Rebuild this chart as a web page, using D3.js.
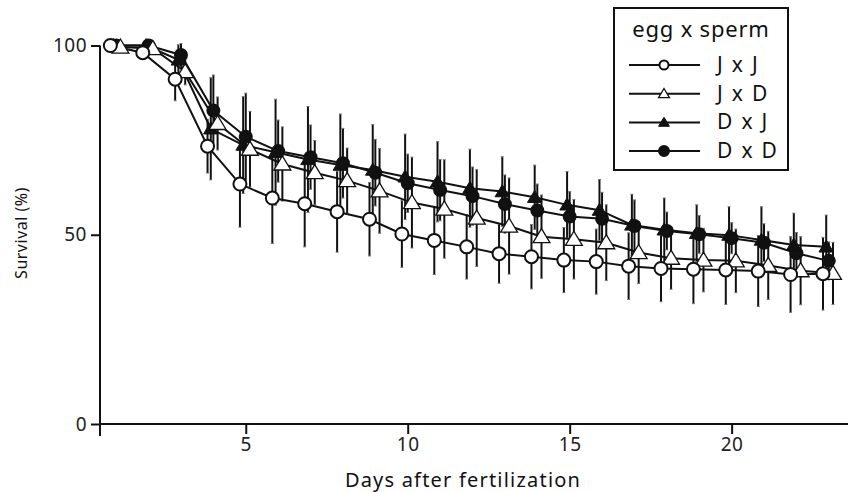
<!DOCTYPE html>
<html>
<head>
<meta charset="utf-8">
<style>
  body { margin: 0; background: #fff; }
  text { font-family: "Noto Sans", "Liberation Sans", sans-serif; fill: #111; }
</style>
</head>
<body>
<svg width="848" height="492"></svg>
<script src="https://d3js.org/d3.v7.min.js"></script>
<script>
// days after fertilization
var days = [1, 2, 3, 4, 5, 6, 7, 8, 9, 10, 11, 12, 13, 14, 15, 16, 17, 18, 19, 20, 21, 22, 23];

// survival (%) and SD per cross (egg x sperm)
var jxj   = [100, 98.1, 91.1, 73.4, 63.4, 59.7, 58.2, 56.1, 54.1, 50.2, 48.5, 46.8, 45.0, 44.2, 43.3, 42.9, 41.7, 41.1, 40.9, 40.7, 40.4, 39.5, 39.7];
var jxjSd = [0, 1.5, 5.7, 7.1, 11.4, 12, 11.4, 10.7, 9.7, 8.8, 9, 8.5, 7.8, 8.5, 8.6, 8.6, 8.8, 8.8, 9.1, 9.1, 9.4, 10, 9.6];
var jxd   = [99.6, 99.2, 93.1, 79.4, 72.6, 68.7, 66.4, 64.3, 61.6, 58.5, 56.8, 54.4, 52.3, 49.5, 48.8, 47.9, 45.3, 43.8, 43.3, 43.1, 41.9, 40.5, 39.8];
var jxdSd = [0.5, 1, 3.5, 7, 10, 9.8, 8.5, 8.6, 11.2, 12, 13, 12.8, 12.7, 11, 10.5, 10, 8.2, 8.2, 8.4, 8.4, 9, 9, 8.2];
var dxj   = [100, 100, 96.2, 78, 73.7, 71.8, 69.9, 68.4, 67.1, 65.3, 64.0, 62.3, 61.4, 59.9, 57.9, 56.5, 52.6, 51.3, 50.4, 49.9, 48.6, 47.3, 46.8];
var dxjSd = [0, 0.5, 4, 13.5, 12.8, 14, 14, 13.5, 12, 11.3, 10.6, 10.3, 9.2, 8.5, 8.8, 8.1, 8.1, 8.4, 7.5, 7.5, 8.8, 8.4, 8.4];
var dxd   = [100, 100, 97.5, 82.8, 75.9, 72.1, 70.5, 68.9, 66.4, 63.6, 61.8, 60.2, 58.1, 56.4, 54.8, 54.2, 52.3, 51.0, 50.1, 49.1, 47.9, 45.1, 43.1];
var dxdSd = [0, 0.5, 3, 9.4, 11.5, 8.2, 8.5, 9.2, 8.8, 7.7, 8.1, 7.7, 7.7, 7, 6.6, 7, 6.9, 5, 5, 4.1, 5, 5.5, 5];

var xTicks = [5, 10, 15, 20];
var yTicks = [0, 50, 100];

// drawing order: back to front
var series = [
  { name: "D x D", vals: dxd, sd: dxdSd, shape: "circle",   fill: "#111", shift: 0.0 },
  { name: "D x J", vals: dxj, sd: dxjSd, shape: "triangle", fill: "#111", shift: -0.08 },
  { name: "J x D", vals: jxd, sd: jxdSd, shape: "triangle", fill: "#fff", shift: 0.13 },
  { name: "J x J", vals: jxj, sd: jxjSd, shape: "circle",   fill: "#fff", shift: -0.18 }
];
var legendOrder = ["J x J", "J x D", "D x J", "D x D"];

var svg = d3.select("svg");
var x = d3.scaleLinear().domain([0.5, 23.5]).range([100, 845]);
var y = d3.scaleLinear().domain([0, 100]).range([424, 45.5]);

// axes
var yAxis = svg.append("g")
  .attr("transform", "translate(100,0)")
  .call(d3.axisLeft(y).tickValues(yTicks).tickSize(9).tickSizeOuter(0).tickPadding(4));
yAxis.select(".domain").remove();
yAxis.selectAll("line").attr("stroke", "#111").attr("stroke-width", 2);
yAxis.selectAll("text").attr("font-size", 19).attr("letter-spacing", 0.5).style("font-family", "Noto Sans").style("fill", "#222");

svg.append("line").attr("x1", 100).attr("x2", 100).attr("y1", y(100)).attr("y2", 436)
  .attr("stroke", "#111").attr("stroke-width", 2);

var xAxis = svg.append("g")
  .attr("transform", "translate(0,424)")
  .call(d3.axisBottom(x).tickValues(xTicks).tickSize(10).tickSizeOuter(0).tickPadding(4));
xAxis.select(".domain").attr("d", "M100,0H848").attr("stroke", "#111").attr("stroke-width", 2);
xAxis.selectAll("line").attr("stroke", "#111").attr("stroke-width", 2);
xAxis.selectAll("text").attr("font-size", 19).attr("letter-spacing", 0.5).style("font-family", "Noto Sans").style("fill", "#222");

svg.append("text").attr("x", 463).attr("y", 487).attr("text-anchor", "middle")
  .attr("font-size", 20).attr("letter-spacing", 1.2).text("Days after fertilization");
svg.append("text").attr("transform", "translate(27,233) rotate(-90)").attr("text-anchor", "middle")
  .attr("font-size", 16).attr("letter-spacing", 0.5).text("Survival (%)");

function marker(sel, shape, fill, size) {
  if (shape === "circle") {
    sel.append("circle").attr("r", size).attr("fill", fill)
      .attr("stroke", "#111").attr("stroke-width", 2);
  } else {
    var s = size * 1.15;
    sel.append("path")
      .attr("d", "M0," + (-s) + "L" + (s * 1.05) + "," + (s * 0.75) + "L" + (-s * 1.05) + "," + (s * 0.75) + "Z")
      .attr("fill", fill).attr("stroke", "#111").attr("stroke-width", fill === "#fff" ? 1.3 : 1);
  }
}

function pts(s) {
  return days.map(function(d, i) { return { x: x(d + s.shift), v: s.vals[i], sd: s.sd[i] }; });
}

// error bars
series.forEach(function(s) {
  var g = svg.append("g");
  pts(s).forEach(function(p) {
    if (p.sd <= 0) return;
    g.append("line").attr("x1", p.x).attr("x2", p.x)
      .attr("y1", y(p.v - p.sd)).attr("y2", y(p.v + p.sd))
      .attr("stroke", "#111").attr("stroke-width", 2);
    [p.v - p.sd, p.v + p.sd].forEach(function(e) {
      g.append("line").attr("x1", p.x - 1.5).attr("x2", p.x + 1.5)
        .attr("y1", y(e)).attr("y2", y(e)).attr("stroke", "#777").attr("stroke-width", 1);
    });
  });
});

// lines
var line = d3.line().x(function(p) { return p.x; }).y(function(p) { return y(p.v); });
series.forEach(function(s) {
  svg.append("path").attr("d", line(pts(s))).attr("fill", "none")
    .attr("stroke", "#111").attr("stroke-width", 2);
});

// markers
series.forEach(function(s) {
  pts(s).forEach(function(p) {
    var g = svg.append("g").attr("transform", "translate(" + p.x + "," + y(p.v) + ")");
    marker(g, s.shape, s.fill, s.shape === "circle" ? (s.fill === "#fff" ? 6.5 : 6) : (s.fill === "#fff" ? 7 : 6));
  });
});

// legend
svg.append("rect").attr("x", 614).attr("y", 8).attr("width", 174).attr("height", 162)
  .attr("fill", "#fff").attr("stroke", "#111").attr("stroke-width", 2);
svg.append("text").attr("x", 701).attr("y", 37).attr("text-anchor", "middle")
  .attr("font-size", 22).attr("letter-spacing", 0.8).text("egg x sperm");
legendOrder.forEach(function(name, i) {
  var s = series.filter(function(d) { return d.name === name; })[0];
  var ly = 65 + i * 28.7;
  svg.append("line").attr("x1", 629).attr("x2", 700).attr("y1", ly).attr("y2", ly)
    .attr("stroke", "#111").attr("stroke-width", 2);
  var g = svg.append("g").attr("transform", "translate(664," + ly + ")");
  marker(g, s.shape, s.fill, s.shape === "circle" ? (s.fill === "#fff" ? 4.5 : 5) : 4.5);
  svg.append("text").attr("x", 717).attr("y", ly + 7).attr("font-size", 21).attr("letter-spacing", 1.8).text(name);
});
</script>
</body>
</html>
